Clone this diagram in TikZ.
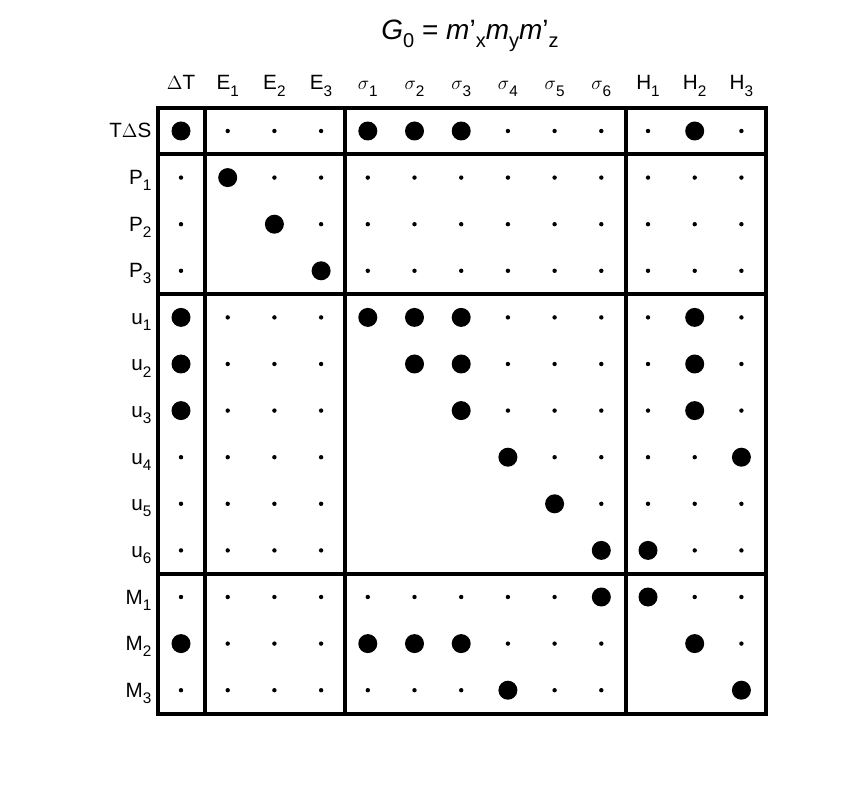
\documentclass[tikz,border=0pt]{standalone}
\usepackage{fontspec}
\setmainfont{Liberation Sans}
\usetikzlibrary{positioning}
\tikzset{>=latex}
\newcommand{\lowsub}[1]{\raisebox{-0.55ex}{\fontsize{11.5}{12}\selectfont #1}}

\begin{document}
\begin{tikzpicture}[x=0.75pt,y=-0.75pt,
    lbl/.style={font=\fontsize{15.5}{17}\selectfont, inner sep=1pt},
    frame/.style={line width=2.3pt}]
  % --- Canvas ---
  \useasboundingbox (0,0) rectangle (856,812);

  % --- Title ---
  \node[font=\fontsize{21}{23}\selectfont] (title) at (470,36)
    {\textit{G}\lowsub{\fontsize{15}{16}\selectfont 0} = \textit{m}'\lowsub{\fontsize{15}{16}\selectfont x}\textit{m}\lowsub{\fontsize{15}{16}\selectfont y}\textit{m}'\lowsub{\fontsize{15}{16}\selectfont z}};

  % --- Column labels ---
  \foreach \lab [count=\i from 0] in {$\Delta$T,E\lowsub{1},E\lowsub{2},E\lowsub{3},
      $\sigma$\lowsub{1},$\sigma$\lowsub{2},$\sigma$\lowsub{3},
      $\sigma$\lowsub{4},$\sigma$\lowsub{5},$\sigma$\lowsub{6},
      H\lowsub{1},H\lowsub{2},H\lowsub{3}}
    \node[lbl, anchor=base] (col\i) at ({181+46.7*\i},90) {\lab};

  % --- Row labels ---
  \foreach \lab [count=\j from 0] in {T$\Delta$S,P\lowsub{1},P\lowsub{2},P\lowsub{3},
      u\lowsub{1},u\lowsub{2},u\lowsub{3},u\lowsub{4},u\lowsub{5},u\lowsub{6},
      M\lowsub{1},M\lowsub{2},M\lowsub{3}}
    \node[lbl, anchor=base east] (row\j) at (153,{138+46.6*\j}) {\lab};

  % --- Entries: 2 = large, 1 = small, 0 = empty ---
  \foreach \vals [count=\j from 0] in {
      {2,1,1,1,2,2,2,1,1,1,1,2,1},
      {1,2,1,1,1,1,1,1,1,1,1,1,1},
      {1,0,2,1,1,1,1,1,1,1,1,1,1},
      {1,0,0,2,1,1,1,1,1,1,1,1,1},
      {2,1,1,1,2,2,2,1,1,1,1,2,1},
      {2,1,1,1,0,2,2,1,1,1,1,2,1},
      {2,1,1,1,0,0,2,1,1,1,1,2,1},
      {1,1,1,1,0,0,0,2,1,1,1,1,2},
      {1,1,1,1,0,0,0,0,2,1,1,1,1},
      {1,1,1,1,0,0,0,0,0,2,2,1,1},
      {1,1,1,1,1,1,1,1,1,2,2,1,1},
      {2,1,1,1,2,2,2,1,1,1,0,2,1},
      {1,1,1,1,1,1,1,2,1,1,0,0,2}}
    \foreach \v [count=\i from 0] in \vals {
      \ifnum\v=2 \fill ({181+46.7*\i},{131+46.6*\j}) circle (9.5);\fi
      \ifnum\v=1 \fill ({181+46.7*\i},{131+46.6*\j}) circle (2.2);\fi
    };

  % --- Block frame ---
  \draw[frame] (158,108) rectangle (766,714);
  \foreach \x in {205,345,626} \draw[frame] (\x,108) -- (\x,714);
  \foreach \y in {154,294,574} \draw[frame] (158,\y) -- (766,\y);
\end{tikzpicture}
\end{document}
